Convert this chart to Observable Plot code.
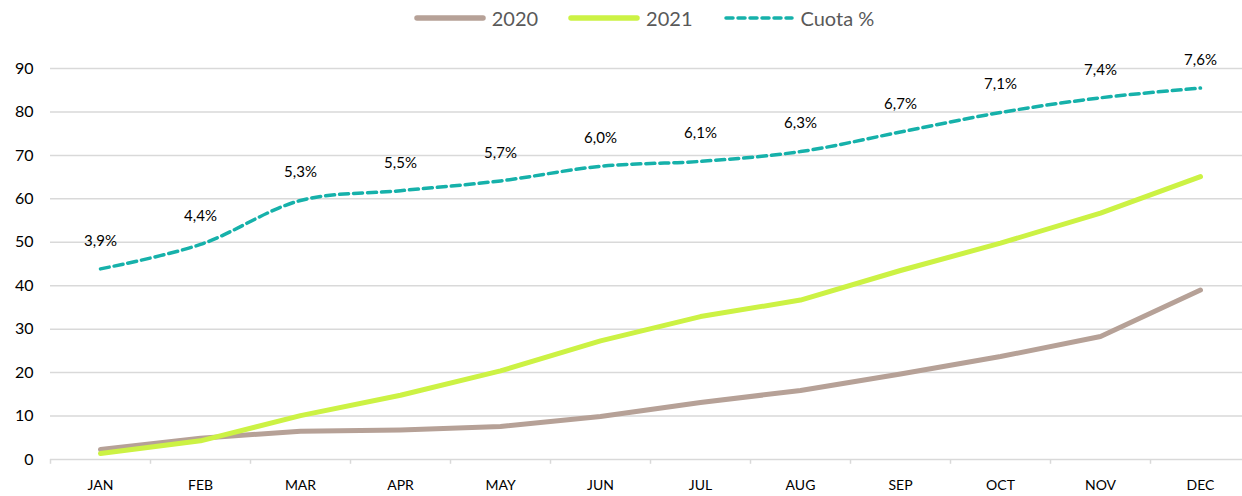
<!DOCTYPE html>
<html>
<head>
<meta charset="utf-8">
<script src="https://cdn.jsdelivr.net/npm/d3@7"></script>
<script src="https://cdn.jsdelivr.net/npm/@observablehq/plot@0.6"></script>
<style>
  html, body { margin: 0; padding: 0; background: #fff; }
  body { width: 1242px; height: 496px; overflow: hidden; font-family: Lato, "Open Sans", sans-serif; }
  #legend { height: 35px; display: flex; justify-content: center; align-items: center; gap: 30px; padding-left: 46px; box-sizing: border-box; color: #595959; font-size: 20px; }
  #legend .item { display: flex; align-items: center; gap: 6px; }
</style>
</head>
<body>
<div id="legend"></div>
<div id="chart"></div>
<script>
const months = ["JAN","FEB","MAR","APR","MAY","JUN","JUL","AUG","SEP","OCT","NOV","DEC"];
const values2020 = [2.3, 4.9, 6.5, 6.8, 7.6, 9.9, 13.1, 15.9, 19.7, 23.7, 28.3, 39.0];
const values2021 = [1.4, 4.3, 10.1, 14.8, 20.4, 27.3, 32.9, 36.7, 43.5, 49.8, 56.7, 65.1];
const cuota = [3.9, 4.4, 5.3, 5.5, 5.7, 6.0, 6.1, 6.3, 6.7, 7.1, 7.4, 7.6];
const yTicks = [0, 10, 20, 30, 40, 50, 60, 70, 80, 90];
const seriesNames = ["2020", "2021", "Cuota %"];
const colors = ["#b6a197", "#ccf244", "#16b1aa"];
const primaryMax = 90;   // left axis max
const secondaryMax = 8;  // hidden right axis max (%)

const rows = months.map((m, i) => ({
  month: m,
  v2020: values2020[i],
  v2021: values2021[i],
  cuota: cuota[i],
  cuotaY: cuota[i] * primaryMax / secondaryMax,
  label: cuota[i].toFixed(1).replace(".", ",") + "%"
}));

// legend
const legend = document.getElementById("legend");
seriesNames.forEach((name, i) => {
  const item = document.createElement("div");
  item.className = "item";
  const dash = i === 2 ? 'stroke-dasharray="7 5"' : '';
  const w = i === 2 ? 3.5 : 5.5;
  item.innerHTML = `<svg width="72" height="10"><line x1="3" y1="5" x2="69" y2="5" stroke="${colors[i]}" stroke-width="${w}" stroke-linecap="round" ${dash}/></svg><span>${name}</span>`;
  legend.appendChild(item);
});

const chart = Plot.plot({
  width: 1242,
  height: 461,
  marginLeft: 50,
  marginRight: -8,
  marginTop: 33,
  marginBottom: 37,
  style: { fontFamily: "Lato, 'Open Sans', sans-serif", background: "#fff", overflow: "visible" },
  x: { type: "point", domain: months, padding: 0.5 },
  y: { domain: [0, primaryMax], ticks: yTicks },
  marks: [
    Plot.gridY(yTicks, { stroke: "#d9d9d9", strokeOpacity: 1, strokeWidth: 1.5 }),
    Plot.ruleX(months, { x: d => d, dx: -50, y1: 0, y2: -1.1, stroke: "#d9d9d9", strokeWidth: 1.5 }),
    Plot.ruleX(["DEC"], { x: d => d, dx: 50, y1: 0, y2: -1.1, stroke: "#d9d9d9", strokeWidth: 1.5 }),
    Plot.axisY(yTicks, { tickSize: 0, tickPadding: 17, label: null, fontSize: 16, fill: "#000" }),
    Plot.axisX(months, { tickSize: 0, tickPadding: 21, label: null, fontSize: 14, fill: "#000" }),
    Plot.line(rows, { x: "month", y: "v2020", stroke: colors[0], strokeWidth: 5, strokeLinecap: "round", strokeLinejoin: "round" }),
    Plot.line(rows, { x: "month", y: "v2021", stroke: colors[1], strokeWidth: 5, strokeLinecap: "round", strokeLinejoin: "round" }),
    Plot.line(rows, { x: "month", y: "cuotaY", stroke: colors[2], strokeWidth: 3.5, strokeDasharray: "9 5", curve: "catmull-rom" }),
    Plot.text(rows, { x: "month", y: "cuotaY", text: "label", dy: -28, fontSize: 15, fill: "#000" })
  ]
});
document.getElementById("chart").appendChild(chart);
</script>
</body>
</html>
